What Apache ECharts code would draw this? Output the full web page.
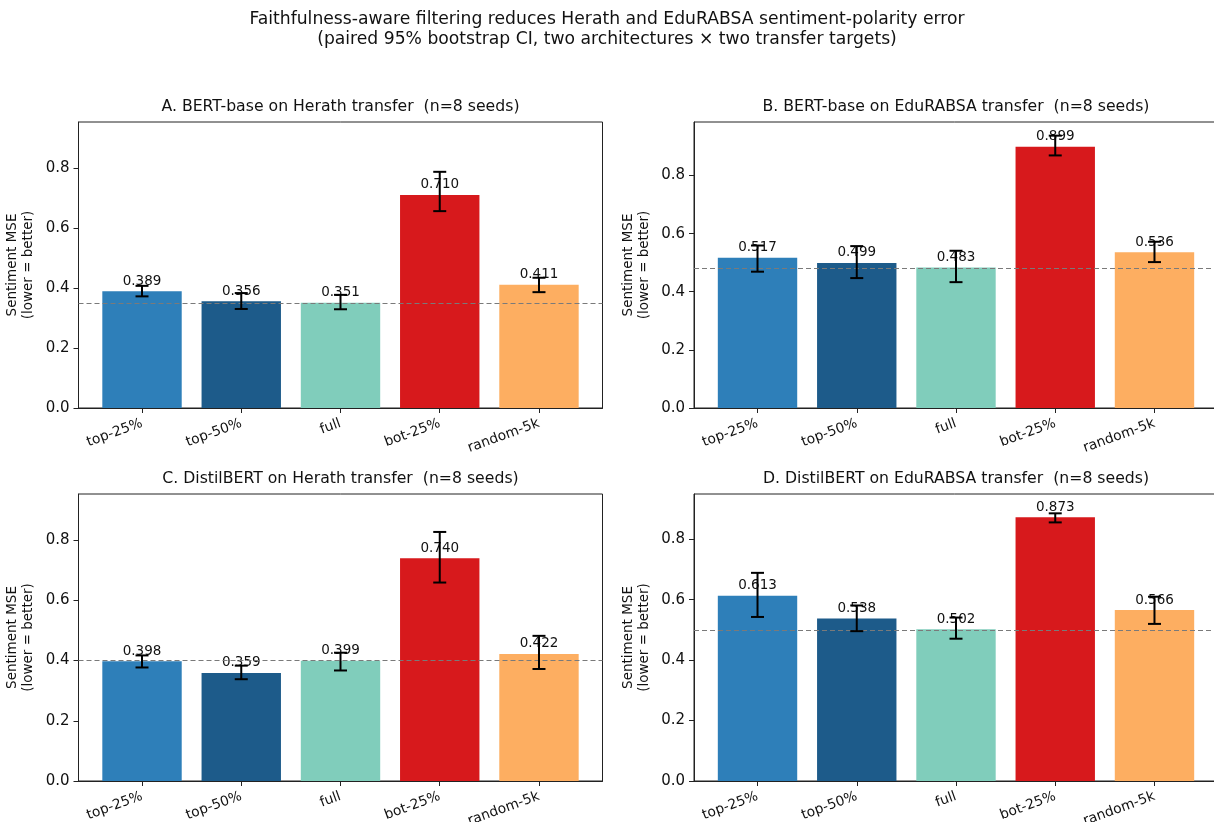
<!DOCTYPE html>
<html><head><meta charset="utf-8">
<script src="https://cdn.jsdelivr.net/npm/echarts@6/dist/echarts.min.js"></script>
<style>html,body{margin:0;padding:0;background:#fff}#c{width:1214px;height:822px}</style>
</head><body><div id="c"></div>
<script>
const categories = ['top-25%', 'top-50%', 'full', 'bot-25%', 'random-5k'];
const barColors = ['#2e7fb9', '#1d5b8a', '#80cdbb', '#d7191c', '#fdae61'];
const panelTitles = [
  'A. BERT-base on Herath transfer  (n=8 seeds)',
  'B. BERT-base on EduRABSA transfer  (n=8 seeds)',
  'C. DistilBERT on Herath transfer  (n=8 seeds)',
  'D. DistilBERT on EduRABSA transfer  (n=8 seeds)'
];
const meanA = [0.389, 0.356, 0.351, 0.710, 0.411];
const loA   = [0.372, 0.330, 0.329, 0.656, 0.386];
const hiA   = [0.407, 0.383, 0.377, 0.787, 0.434];
const meanB = [0.517, 0.499, 0.483, 0.899, 0.536];
const loB   = [0.469, 0.447, 0.433, 0.869, 0.502];
const hiB   = [0.559, 0.557, 0.541, 0.937, 0.572];
const meanC = [0.398, 0.359, 0.399, 0.740, 0.422];
const loC   = [0.377, 0.338, 0.367, 0.659, 0.372];
const hiC   = [0.417, 0.383, 0.426, 0.827, 0.482];
const meanD = [0.613, 0.538, 0.502, 0.873, 0.566];
const loD   = [0.543, 0.496, 0.471, 0.856, 0.520];
const hiD   = [0.689, 0.581, 0.541, 0.886, 0.610];
const yTicks = [0, 0.2, 0.4, 0.6, 0.8];
const yMax = [0.953, 0.984, 0.953, 0.950];

const panels = [
  {mean: meanA, lo: loA, hi: hiA},
  {mean: meanB, lo: loB, hi: hiB},
  {mean: meanC, lo: loC, hi: hiC},
  {mean: meanD, lo: loD, hi: hiD}
];
const FONT = 'DejaVu Sans';
const gridPos = [
  {left: 78.5, top: 122, width: 524, height: 286},
  {left: 694, top: 122, width: 524, height: 286},
  {left: 78.5, top: 494, width: 524, height: 287},
  {left: 694, top: 494, width: 524, height: 287}
];
const titleY = [99, 99, 471, 471];

const grids = [], xAxes = [], yAxes = [], series = [], graphics = [];
panels.forEach((p, i) => {
  const g = gridPos[i];
  grids.push({left: g.left, top: g.top, width: g.width, height: g.height,
    outerBoundsMode: 'none', containLabel: false,
    show: true, borderColor: '#222', borderWidth: 1, backgroundColor: 'transparent'});
  xAxes.push({type: 'value', gridIndex: i, min: -0.64, max: 4.64,
    axisLine: {show: true, onZero: false, lineStyle: {color: '#222', width: 1}},
    axisTick: {show: true, customValues: [0, 1, 2, 3, 4], length: 5, lineStyle: {color: '#222'}},
    axisLabel: {show: true, customValues: [0, 1, 2, 3, 4], rotate: 20, margin: 15,
      fontFamily: FONT, fontSize: 13.8, color: '#111',
      formatter: v => categories[Math.round(v)]},
    splitLine: {show: false}});
  yAxes.push({type: 'value', gridIndex: i, min: 0, max: yMax[i],
    name: 'Sentiment MSE\n(lower = better)', nameLocation: 'middle', nameGap: 42,
    nameTextStyle: {fontFamily: FONT, fontSize: 13.5, color: '#111', lineHeight: 16},
    axisLine: {show: true, onZero: false, lineStyle: {color: '#222', width: 1}},
    axisTick: {show: true, customValues: yTicks, length: 5, lineStyle: {color: '#222'}},
    axisLabel: {show: true, customValues: yTicks, margin: 9, fontFamily: FONT, fontSize: 15, color: '#111',
      formatter: v => v.toFixed(1)},
    splitLine: {show: false}});
  series.push({type: 'bar', xAxisIndex: i, yAxisIndex: i, barWidth: '80%', z: 2,
    data: p.mean.map((v, j) => ({value: [j, v], itemStyle: {color: barColors[j]}})),
    label: {show: true, position: 'top', distance: 3, fontFamily: FONT, fontSize: 13.5, color: '#111',
      formatter: q => q.value[1].toFixed(3)},
    markLine: {silent: true, symbol: 'none', label: {show: false},
      lineStyle: {type: [5, 3], color: '#7a7a7a', width: 1.2},
      data: [{yAxis: p.mean[2]}]}});
  series.push({type: 'custom', xAxisIndex: i, yAxisIndex: i, z: 5,
    data: p.mean.map((v, j) => [j, p.lo[j], p.hi[j]]),
    encode: {x: 0, y: [1, 2]},
    renderItem: (params, api) => {
      const a = api.coord([api.value(0), api.value(1)]);
      const b = api.coord([api.value(0), api.value(2)]);
      const w = 6.5;
      const st = {stroke: '#000', lineWidth: 2};
      return {type: 'group', children: [
        {type: 'line', shape: {x1: a[0], y1: a[1], x2: b[0], y2: b[1]}, style: st},
        {type: 'line', shape: {x1: a[0] - w, y1: a[1], x2: a[0] + w, y2: a[1]}, style: st},
        {type: 'line', shape: {x1: b[0] - w, y1: b[1], x2: b[0] + w, y2: b[1]}, style: st}
      ]};
    }});
  graphics.push({type: 'text', x: g.left + g.width / 2, y: titleY[i],
    style: {text: panelTitles[i], font: '15.7px "DejaVu Sans"', fill: '#111',
      textAlign: 'center', textVerticalAlign: 'top'}});
});
graphics.push({type: 'text', x: 607, y: 10,
  style: {text: 'Faithfulness-aware filtering reduces Herath and EduRABSA sentiment-polarity error\n(paired 95% bootstrap CI, two architectures \u00d7 two transfer targets)',
    font: '17.2px "DejaVu Sans"', fill: '#111', textAlign: 'center', textVerticalAlign: 'top', lineHeight: 19.5}});

const chart = echarts.init(document.getElementById('c'), null, {renderer: 'canvas'});
chart.setOption({
  animation: false,
  backgroundColor: '#fff',
  grid: grids, xAxis: xAxes, yAxis: yAxes, series: series,
  graphic: graphics
});
</script></body></html>
